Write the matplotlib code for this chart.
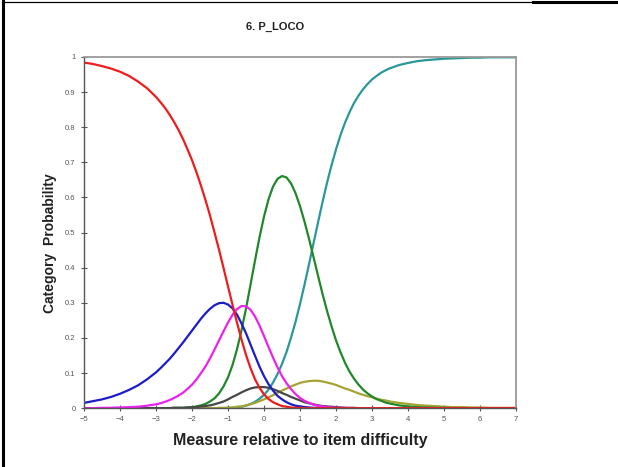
import matplotlib
matplotlib.use("Agg")
import matplotlib.pyplot as plt
from matplotlib.lines import Line2D

plt.rcParams["font.family"] = ["Liberation Sans", "DejaVu Sans"]

# --- data ---
measure = [-5.0, -4.75, -4.5, -4.25, -4.0, -3.75, -3.5, -3.25,
           -3.0, -2.875, -2.75, -2.625, -2.5, -2.375, -2.25, -2.125,
           -2.0, -1.875, -1.75, -1.625, -1.5, -1.375, -1.25, -1.125,
           -1.0, -0.875, -0.75, -0.625, -0.5, -0.375, -0.25, -0.125,
           0.0, 0.125, 0.25, 0.375, 0.5, 0.625, 0.75, 0.875,
           1.0, 1.125, 1.25, 1.375, 1.5, 1.625, 1.75, 1.875,
           2.0, 2.125, 2.25, 2.375, 2.5, 2.625, 2.75, 2.875,
           3.0, 3.125, 3.25, 3.375, 3.5, 3.75, 4.0, 4.25,
           4.5, 4.75, 5.0, 5.25, 5.5, 5.75, 6.0, 6.25,
           6.5, 6.75, 7.0]

cat0 = [0.984, 0.980, 0.974, 0.967, 0.958, 0.946, 0.930, 0.911,
        0.886, 0.871, 0.855, 0.836, 0.815, 0.792, 0.766, 0.737,
        0.706, 0.671, 0.633, 0.592, 0.548, 0.500, 0.451, 0.399,
        0.346, 0.294, 0.243, 0.195, 0.151, 0.114, 0.082, 0.058,
        0.039, 0.026, 0.017, 0.011, 0.006, 0.004, 0.002, 0.001,
        0.001, 0.000, 0.000, 0.000, 0.000, 0.000, 0.000, 0.000,
        0.000, 0.000, 0.000, 0.000, 0.000, 0.000, 0.000, 0.000,
        0.000, 0.000, 0.000, 0.000, 0.000, 0.000, 0.000, 0.000,
        0.000, 0.000, 0.000, 0.000, 0.000, 0.000, 0.000, 0.000,
        0.000, 0.000, 0.000]
cat1 = [0.015, 0.020, 0.025, 0.032, 0.041, 0.052, 0.065, 0.082,
        0.102, 0.114, 0.127, 0.140, 0.155, 0.171, 0.187, 0.204,
        0.221, 0.238, 0.255, 0.270, 0.283, 0.293, 0.299, 0.300,
        0.295, 0.284, 0.266, 0.241, 0.213, 0.181, 0.149, 0.118,
        0.091, 0.068, 0.050, 0.035, 0.025, 0.017, 0.011, 0.007,
        0.005, 0.003, 0.002, 0.001, 0.001, 0.000, 0.000, 0.000,
        0.000, 0.000, 0.000, 0.000, 0.000, 0.000, 0.000, 0.000,
        0.000, 0.000, 0.000, 0.000, 0.000, 0.000, 0.000, 0.000,
        0.000, 0.000, 0.000, 0.000, 0.000, 0.000, 0.000, 0.000,
        0.000, 0.000, 0.000]
cat2 = [0.000, 0.000, 0.001, 0.001, 0.002, 0.003, 0.004, 0.007,
        0.011, 0.014, 0.018, 0.023, 0.029, 0.036, 0.044, 0.055,
        0.067, 0.082, 0.100, 0.119, 0.142, 0.167, 0.193, 0.219,
        0.244, 0.266, 0.282, 0.291, 0.290, 0.280, 0.261, 0.235,
        0.205, 0.174, 0.144, 0.116, 0.091, 0.071, 0.054, 0.040,
        0.029, 0.021, 0.015, 0.010, 0.007, 0.005, 0.003, 0.002,
        0.001, 0.001, 0.001, 0.000, 0.000, 0.000, 0.000, 0.000,
        0.000, 0.000, 0.000, 0.000, 0.000, 0.000, 0.000, 0.000,
        0.000, 0.000, 0.000, 0.000, 0.000, 0.000, 0.000, 0.000,
        0.000, 0.000, 0.000]
cat3 = [0.000, 0.000, 0.000, 0.000, 0.000, 0.000, 0.000, 0.000,
        0.000, 0.000, 0.000, 0.000, 0.001, 0.001, 0.001, 0.002,
        0.002, 0.003, 0.005, 0.006, 0.008, 0.011, 0.015, 0.019,
        0.025, 0.032, 0.038, 0.045, 0.051, 0.056, 0.059, 0.060,
        0.060, 0.058, 0.054, 0.049, 0.043, 0.038, 0.032, 0.027,
        0.022, 0.017, 0.014, 0.011, 0.008, 0.006, 0.005, 0.004,
        0.003, 0.002, 0.001, 0.001, 0.001, 0.000, 0.000, 0.000,
        0.000, 0.000, 0.000, 0.000, 0.000, 0.000, 0.000, 0.000,
        0.000, 0.000, 0.000, 0.000, 0.000, 0.000, 0.000, 0.000,
        0.000, 0.000, 0.000]
cat4 = [0.000, 0.000, 0.000, 0.000, 0.000, 0.000, 0.000, 0.000,
        0.000, 0.000, 0.000, 0.000, 0.001, 0.001, 0.001, 0.002,
        0.003, 0.005, 0.008, 0.012, 0.019, 0.028, 0.042, 0.062,
        0.088, 0.123, 0.168, 0.222, 0.284, 0.352, 0.421, 0.487,
        0.546, 0.595, 0.631, 0.653, 0.661, 0.657, 0.640, 0.612,
        0.575, 0.531, 0.482, 0.430, 0.377, 0.325, 0.277, 0.233,
        0.193, 0.159, 0.129, 0.104, 0.084, 0.067, 0.053, 0.042,
        0.033, 0.026, 0.021, 0.016, 0.013, 0.008, 0.005, 0.003,
        0.002, 0.001, 0.001, 0.000, 0.000, 0.000, 0.000, 0.000,
        0.000, 0.000, 0.000]
cat5 = [0.000, 0.000, 0.000, 0.000, 0.000, 0.000, 0.000, 0.000,
        0.000, 0.000, 0.000, 0.000, 0.000, 0.000, 0.000, 0.000,
        0.000, 0.000, 0.000, 0.000, 0.000, 0.000, 0.001, 0.001,
        0.001, 0.002, 0.004, 0.005, 0.008, 0.011, 0.015, 0.020,
        0.025, 0.031, 0.037, 0.044, 0.050, 0.056, 0.062, 0.067,
        0.072, 0.075, 0.077, 0.078, 0.078, 0.076, 0.073, 0.070,
        0.066, 0.061, 0.056, 0.052, 0.047, 0.042, 0.038, 0.034,
        0.031, 0.027, 0.024, 0.022, 0.019, 0.015, 0.012, 0.009,
        0.007, 0.006, 0.004, 0.003, 0.003, 0.002, 0.002, 0.001,
        0.001, 0.001, 0.001]
cat6 = [0.000, 0.000, 0.000, 0.000, 0.000, 0.000, 0.000, 0.000,
        0.000, 0.000, 0.000, 0.000, 0.000, 0.000, 0.000, 0.000,
        0.000, 0.000, 0.000, 0.000, 0.000, 0.000, 0.000, 0.000,
        0.001, 0.001, 0.003, 0.004, 0.007, 0.012, 0.018, 0.027,
        0.038, 0.053, 0.073, 0.097, 0.126, 0.160, 0.201, 0.246,
        0.297, 0.352, 0.410, 0.470, 0.529, 0.587, 0.642, 0.692,
        0.737, 0.778, 0.813, 0.843, 0.869, 0.890, 0.908, 0.923,
        0.936, 0.946, 0.955, 0.962, 0.968, 0.977, 0.983, 0.988,
        0.991, 0.993, 0.995, 0.996, 0.997, 0.998, 0.998, 0.999,
        0.999, 0.999, 0.999]

x_ticks = [-5, -4, -3, -2, -1, 0, 1, 2, 3, 4, 5, 6, 7]
y_ticks = [0, 0.1, 0.2, 0.3, 0.4, 0.5, 0.6, 0.7, 0.8, 0.9, 1]
y_tick_labels = ["0", "0.1", "0.2", "0.3", "0.4", "0.5", "0.6", "0.7", "0.8", "0.9", "1"]

# --- figure ---
fig = plt.figure(figsize=(6.18, 4.67), dpi=100)
ax = fig.add_axes([0.136, 0.126, 0.699, 0.752])

# drawing order: last one ends on top along the zero line
curves = [(cat6, "#2a9898"), (cat5, "#a5a332"), (cat4, "#21882a"),
          (cat3, "#474747"), (cat1, "#1c1cc8"), (cat2, "#ec22ec"),
          (cat0, "#ee1c1c")]
for vals, col in curves:
    ax.plot(measure, vals, color=col, lw=1.6, solid_capstyle="round",
            solid_joinstyle="round")

ax.set_xlim(-5, 7)
ax.set_ylim(0, 1)
ax.set_xticks(x_ticks)
ax.set_yticks(y_ticks)
ax.set_yticklabels(y_tick_labels)
ax.tick_params(direction="inout", length=4, width=0.8, labelsize=5.5,
               colors="#555555", pad=4)

for side in ["left", "bottom"]:
    ax.spines[side].set_color("#555555")
    ax.spines[side].set_linewidth(1.0)
for side in ["top", "right"]:
    ax.spines[side].set_color("#9a9a9a")
    ax.spines[side].set_linewidth(1.3)

fig.text(275 / 618, 1 - 27 / 467, "6. P_LOCO", fontsize=8, fontweight="bold",
         ha="center", va="center", color="#222222")
fig.text(300 / 618, 1 - 440 / 467, "Measure relative to item difficulty",
         fontsize=11.5, fontweight="bold", ha="center", va="center", color="#222222")
fig.text(50 / 618, 1 - 243 / 467, "Category  Probability", fontsize=10,
         fontweight="bold", ha="center", va="center", rotation=90, color="#222222")

# outer frame of the original screenshot
fig.add_artist(Line2D([3 / 618, 3 / 618], [0, 1], color="black", lw=2.2,
                      transform=fig.transFigure))
fig.add_artist(Line2D([3 / 618, 533 / 618], [1 - 1.5 / 467, 1 - 1.5 / 467],
                      color="black", lw=0.9, transform=fig.transFigure))
fig.add_artist(Line2D([533 / 618, 1], [1 - 2 / 467, 1 - 2 / 467],
                      color="black", lw=2.2, transform=fig.transFigure))

fig.savefig("out.png", dpi=100)
